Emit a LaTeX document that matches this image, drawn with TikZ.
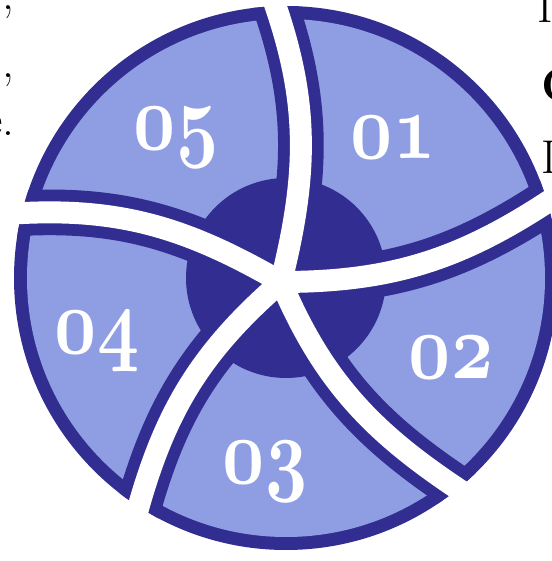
\documentclass[tikz,border=0pt]{standalone}
\usetikzlibrary{calc}
\definecolor{wheeldark}{RGB}{49,45,145}
\definecolor{wheellight}{RGB}{143,158,227}
\begin{document}
\begin{tikzpicture}[gapdark/.style={draw=wheeldark, line width=26pt}, gapwhite/.style={draw=white, line width=12.5pt}, num/.style={text=white, font=\fontsize{24.88}{30}\usefont{OML}{cmm}{b}{it}, xscale=1.68, yscale=2.15, anchor=base, inner sep=0pt}, side/.style={font=\fontsize{27}{32}\selectfont, inner sep=0pt}]
\useasboundingbox (0,0) rectangle (11.04,11.22);
\clip (0,0) rectangle (11.04,11.22);
\coordinate (o) at (5.72,5.66);
\coordinate (x) at (5.62,5.58);
% wheel and its border
\fill[wheeldark] (o) circle (5.44);
\fill[wheellight] (o) circle (5.18);
\begin{scope}
\clip (o) circle (5.44);
\foreach \a [evaluate=\a as \o using \a-17, evaluate=\a as \i using \a+197] in {93,17,-50,-122,167}
  \draw[gapdark] (x) to[out=\o, in=\i] ($(o)+(\a:5.7)$);
\end{scope}
\fill[wheeldark] (o) circle (2.0);
% white gaps
\foreach \a [evaluate=\a as \o using \a-17, evaluate=\a as \i using \a+197] in {93,17,-50,-122,167}
  \draw[gapwhite] (x) to[out=\o, in=\i] ($(o)+(\a:5.7)$);
% numbers
\node[num] (n01) at (7.86,8.05) {01};
\node[num] (n02) at (9.02,3.65) {02};
\node[num] (n03) at (5.30,1.54) {03};
\node[num] (n04) at (1.94,4.14) {04};
\node[num] (n05) at (3.52,8.23) {05};
% text cut off at the sides
\node[side, anchor=base east] (t1) at (0.30,11.02) {?,};
\node[side, anchor=base east] (t2) at (0.30,9.66) {t,};
\node[side, anchor=base east] (t3) at (0.30,8.50) {e.};
\node[side, anchor=base west] (r1) at (10.74,10.76) {I};
\node[side, anchor=base west] (r2) at (10.82,9.18) {\textbf{C}};
\node[side, anchor=base west] (r3) at (10.82,7.74) {I};
\end{tikzpicture}
\end{document}
